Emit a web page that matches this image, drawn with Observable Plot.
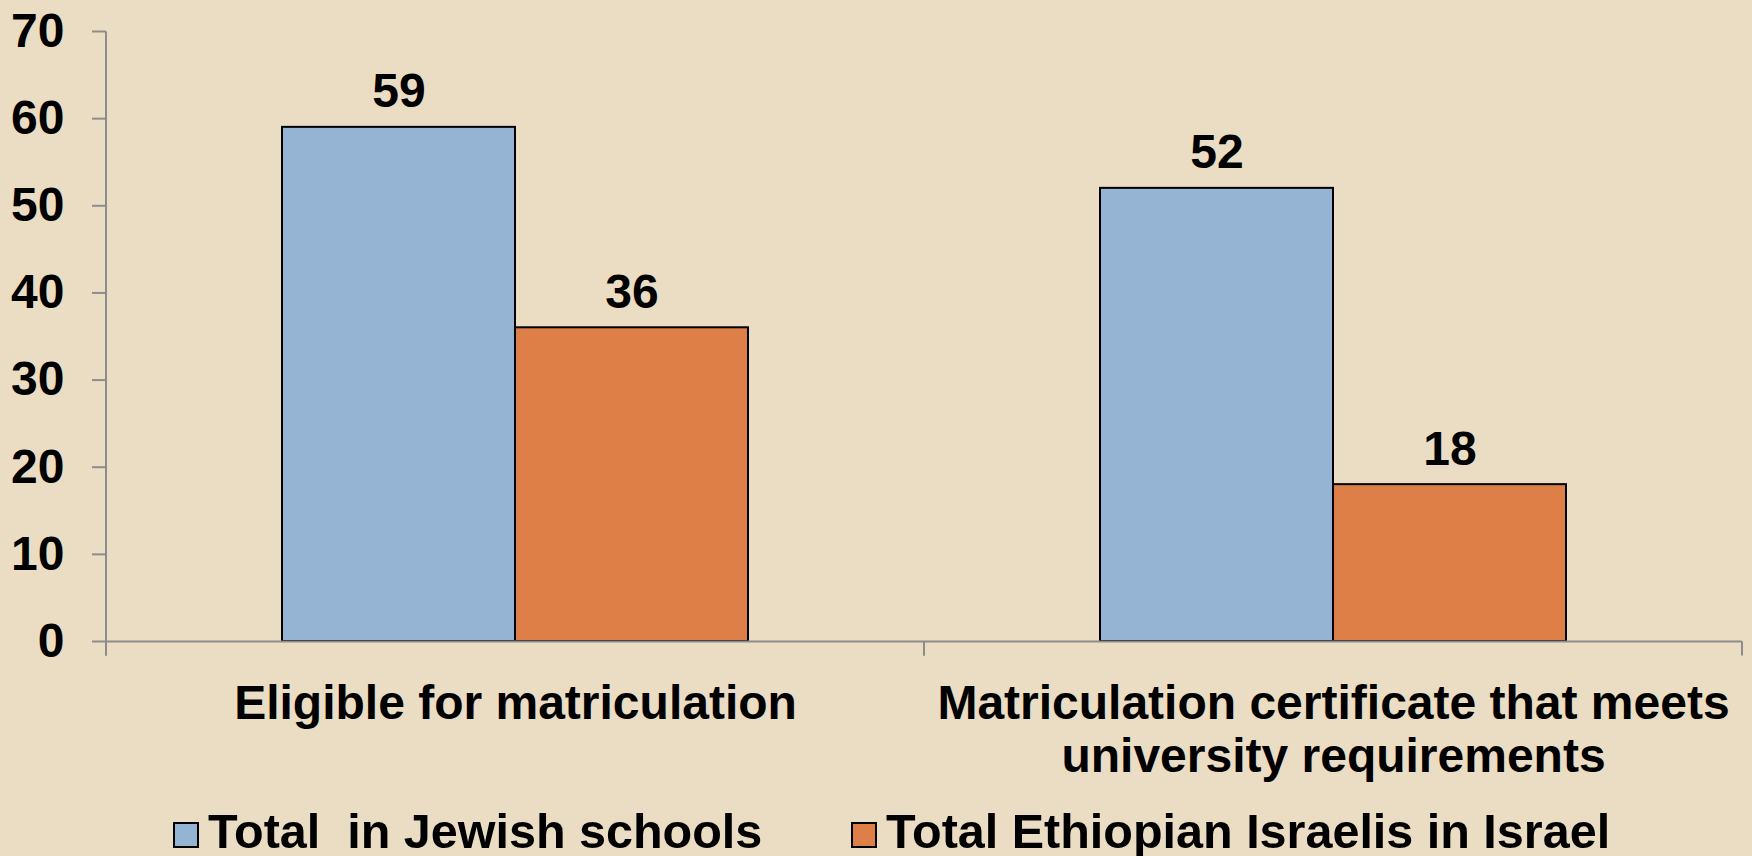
<!DOCTYPE html>
<html>
<head>
<meta charset="utf-8">
<script src="https://cdn.jsdelivr.net/npm/d3@7"></script>
<script src="https://cdn.jsdelivr.net/npm/@observablehq/plot@0.6"></script>
<style>
html, body { margin: 0; padding: 0; background: #EBDDC3; overflow: hidden; }
#wrap { position: relative; width: 1752px; height: 856px; font-family: "Liberation Sans", Arial, sans-serif; font-weight: bold; }
#chart svg { display: block; }
#legend { position: absolute; left: 0; top: 790px; width: 1752px; height: 66px; }
.item { position: absolute; top: 11px; font-size: 48.5px; line-height: 60px; white-space: pre; color: #000; }
.item:nth-child(1) { left: 173px; }
.item:nth-child(2) { left: 851px; }
.sw { display: inline-block; width: 22px; height: 22px; border: 2px solid #000; margin-right: 9px; vertical-align: baseline; }
</style>
</head>
<body>
<div id="wrap"><div id="chart"></div><div id="legend"></div></div>
<script>
const categories = ["Eligible for matriculation", "Matriculation certificate that meets university requirements"];
const fxLabels = ["Eligible for matriculation", "Matriculation certificate that meets\nuniversity requirements"];
const series = ["Total  in Jewish schools", "Total Ethiopian Israelis in Israel"];
const jewishValues = [59, 52];
const ethiopianValues = [36, 18];
const yTicks = [0, 10, 20, 30, 40, 50, 60, 70];
const colors = ["#95B4D4", "#DE7F48"];

const data = categories.flatMap((c, i) => [
  {category: c, series: series[0], value: jewishValues[i]},
  {category: c, series: series[1], value: ethiopianValues[i]}
]);

const gray = "#8C8C8C";
const tickLen = 14;

const axisFrame = Plot.ruleY(categories, {
  fx: d => d, y: () => 0, stroke: gray, strokeWidth: 2,
  render(index, scales, values, dims, context, next) {
    const g = next(index, scales, values, dims, context);
    const sel = d3.select(g);
    const [r0, r1] = (scales.x && scales.x.range) ? scales.x.range() : [dims.marginLeft, dims.width - dims.marginRight];
    const y0 = scales.y(0);
    const yr = scales.y.range ? scales.y.range() : [y0, dims.marginTop];
    const yTop = Math.min(...yr);
    for (const x of [r0, r1]) {
      sel.append("line").attr("x1", x).attr("x2", x).attr("y1", y0).attr("y2", y0 + tickLen)
        .attr("stroke", gray).attr("stroke-width", 2);
    }
    if (categories[index[0]] === categories[0]) {
      sel.append("line").attr("x1", r0).attr("x2", r0).attr("y1", yTop).attr("y2", y0 + tickLen)
        .attr("stroke", gray).attr("stroke-width", 2);
    }
    return g;
  }
});

const chart = Plot.plot({
  width: 1752,
  height: 790,
  marginLeft: 106,
  marginRight: 10,
  marginTop: 31,
  marginBottom: 149,
  style: {background: "transparent", fontFamily: "'Liberation Sans', Arial, sans-serif", fontSize: "48px", fontWeight: "bold", color: "#000", overflow: "visible"},
  fx: {domain: categories, padding: 0, label: null},
  x: {domain: series, paddingInner: 0, paddingOuter: 0.75, axis: null},
  y: {domain: [0, 70], label: null},
  color: {domain: series, range: colors},
  marks: [
    Plot.barY(data, {fx: "category", x: "series", y: "value", fill: "series", stroke: "#000", strokeWidth: 2}),
    Plot.text(data, {fx: "category", x: "series", y: "value", text: d => String(d.value), lineAnchor: "bottom", dy: -20, fontSize: 48, fontWeight: "bold", fill: "#000"}),
    Plot.axisY({ticks: yTicks, tickSize: tickLen, tickPadding: 28, stroke: gray, strokeWidth: 2, fontSize: 48, fontWeight: "bold", fill: "#000", label: null}),
    Plot.axisFx({anchor: "bottom", tickSize: 0, tickPadding: 39, tickFormat: d => fxLabels[categories.indexOf(d)], fontSize: 48, fontWeight: "bold", fill: "#000", lineHeight: 1.12, label: null}),
    axisFrame
  ]
});
document.getElementById("chart").appendChild(chart);

const legend = document.getElementById("legend");
series.forEach((s, i) => {
  const item = document.createElement("div");
  item.className = "item";
  const sw = document.createElement("span");
  sw.className = "sw";
  sw.style.background = colors[i];
  item.appendChild(sw);
  item.appendChild(document.createTextNode(s));
  legend.appendChild(item);
});
</script>
</body>
</html>
